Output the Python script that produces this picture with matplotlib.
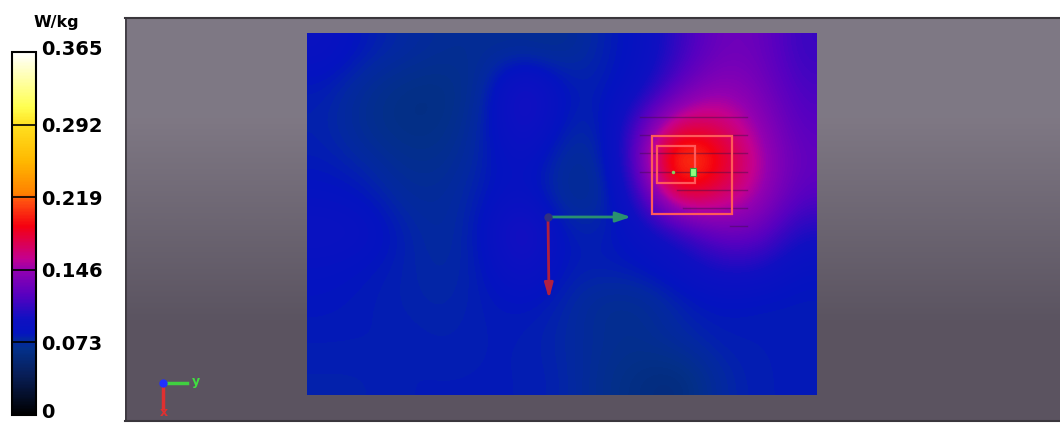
import numpy as np
import matplotlib
matplotlib.use("Agg")
from matplotlib import pyplot as plt
from matplotlib import transforms
from matplotlib.colors import LinearSegmentedColormap, Normalize
from matplotlib.patches import Rectangle

# SAR values (W/kg), rows top->bottom, cols left->right
sar_row0 = [0.090, 0.080, 0.075, 0.070, 0.070, 0.070, 0.068, 0.078, 0.085, 0.110, 0.130, 0.130, 0.110]
sar_row1 = [0.080, 0.070, 0.064, 0.063, 0.072, 0.108, 0.082, 0.078, 0.090, 0.125, 0.145, 0.135, 0.115]
sar_row2 = [0.078, 0.068, 0.063, 0.064, 0.076, 0.105, 0.080, 0.075, 0.120, 0.170, 0.170, 0.145, 0.120]
sar_row3 = [0.080, 0.075, 0.068, 0.068, 0.078, 0.090, 0.072, 0.070, 0.130, 0.238, 0.195, 0.155, 0.125]
sar_row4 = [0.085, 0.082, 0.072, 0.072, 0.080, 0.090, 0.070, 0.068, 0.110, 0.185, 0.170, 0.150, 0.120]
sar_row5 = [0.092, 0.090, 0.078, 0.072, 0.082, 0.112, 0.080, 0.078, 0.088, 0.105, 0.130, 0.130, 0.100]
sar_row6 = [0.085, 0.082, 0.078, 0.074, 0.080, 0.098, 0.080, 0.080, 0.082, 0.088, 0.100, 0.100, 0.085]
sar_row7 = [0.082, 0.080, 0.078, 0.076, 0.080, 0.082, 0.078, 0.068, 0.068, 0.078, 0.082, 0.080, 0.080]
sar_row8 = [0.080, 0.080, 0.080, 0.078, 0.080, 0.080, 0.076, 0.070, 0.068, 0.075, 0.080, 0.080, 0.080]
sar_row9 = [0.078, 0.078, 0.080, 0.080, 0.080, 0.080, 0.078, 0.068, 0.062, 0.058, 0.075, 0.080, 0.080]

sar_max = 0.365
tick_values = [0, 0.073, 0.146, 0.219, 0.292, 0.365]
tick_labels = ["0", "0.073", "0.146", "0.219", "0.292", "0.365"]

sar = np.array([sar_row0, sar_row1, sar_row2, sar_row3, sar_row4,
                sar_row5, sar_row6, sar_row7, sar_row8, sar_row9])

# colour table like the SAR viewer
cmap = LinearSegmentedColormap.from_list("sar", [
    (0.000, "#000000"),
    (0.110, "#081e58"),
    (0.180, "#03308a"),
    (0.205, "#0328a2"),
    (0.225, "#0414c0"),
    (0.265, "#1010c2"),
    (0.330, "#5800c0"),
    (0.400, "#9400b0"),
    (0.430, "#c40090"),
    (0.520, "#f50010"),
    (0.590, "#ff5010"),
    (0.610, "#ff8000"),
    (0.700, "#ffb800"),
    (0.800, "#ffe020"),
    (0.850, "#ffff50"),
    (1.000, "#ffffff"),
])
norm = Normalize(0, sar_max)

fig = plt.figure(figsize=(10.6, 4.23), dpi=100, facecolor="white")
ax = fig.add_axes([0, 0, 1, 1])
ax.set_axis_off()

# grey viewport background
bg = np.array([[[0.498, 0.471, 0.518]], [[0.357, 0.329, 0.380]]])
ax.imshow(bg, extent=[125, 1060, 421, 18], aspect="auto", interpolation="bilinear", zorder=0)
ax.plot([125, 1060], [18.5, 18.5], color="#3a363c", lw=1.5, zorder=1)
ax.plot([125.5, 125.5], [18, 421], color="#3a363c", lw=1.2, zorder=1)
ax.plot([125, 1060], [421.5, 421.5], color="#3a363c", lw=1.5, zorder=1)

im = ax.imshow(sar, cmap=cmap, norm=norm, extent=[307, 817, 395, 33],
               aspect="auto", interpolation="bicubic", zorder=2)

# thin scan lines around the peak
for y0, xa in [(117, 640), (135, 640), (153, 640), (172, 640), (190, 677), (208, 683), (226, 730)]:
    ax.plot([xa, 747], [y0, y0], color="#40104a", lw=1, alpha=0.45, zorder=3)

# zoom scan boxes
ax.add_patch(Rectangle((652, 136), 80, 78, fill=False, ec="#ff5a5a", lw=1.6, zorder=4))
ax.add_patch(Rectangle((657, 146), 38, 37, fill=False, ec="#ff5a5a", lw=1.6, zorder=4))
ax.add_patch(Rectangle((690, 168), 6, 8, fc="#90ff80", ec="#30a040", lw=0.8, zorder=5))
ax.plot(673, 172, marker=".", color="#80d060", ms=3, zorder=5)

# device axes triad
ax.annotate("", xy=(631, 217), xytext=(548, 217),
            arrowprops=dict(arrowstyle="-|>,head_length=0.9,head_width=0.3",
                            color="#2a9070", lw=2, shrinkA=0, shrinkB=0), zorder=5)
ax.annotate("", xy=(549, 299), xytext=(548, 217),
            arrowprops=dict(arrowstyle="-|>,head_length=0.9,head_width=0.25",
                            color="#b02040", lw=2, shrinkA=0, shrinkB=0), zorder=5)
ax.plot(548, 217, "o", color="#303080", ms=5, zorder=6)

# small view triad
ax.plot([163, 187], [383, 383], color="#40d040", lw=2.5, zorder=5)
ax.plot([163, 163], [383, 408], color="#e03030", lw=2.5, zorder=5)
ax.plot(163, 383, "o", color="#2030ff", ms=5, zorder=6)
ax.text(196, 382, "y", color="#40e040", fontsize=9, fontweight="bold", ha="center", va="center")
ax.text(164, 413, "x", color="#e03030", fontsize=9, fontweight="bold", ha="center", va="center")

ax.set_xlim(0, 1060)
ax.set_ylim(423, 0)

# colour bar
cax = fig.add_axes([12 / 1060, 1 - 415 / 423, 24 / 1060, 363 / 423])
cb = fig.colorbar(im, cax=cax, ticks=tick_values)
cb.ax.set_yticklabels(tick_labels, fontsize=14, fontweight="bold")
cb.ax.tick_params(length=0, pad=4)
cb.outline.set_linewidth(1.5)
for v in tick_values[1:-1]:
    cb.ax.axhline(v, color="black", lw=1.2)
labels = cb.ax.get_yticklabels()
labels[0].set_transform(labels[0].get_transform() + transforms.ScaledTranslation(0, 3 / 72, fig.dpi_scale_trans))
labels[-1].set_transform(labels[-1].get_transform() + transforms.ScaledTranslation(0, 3 / 72, fig.dpi_scale_trans))
ax.text(56, 22, "W/kg", fontsize=11.5, fontweight="bold", ha="center", va="center")

fig.savefig("out.png", dpi=100, facecolor="white")
